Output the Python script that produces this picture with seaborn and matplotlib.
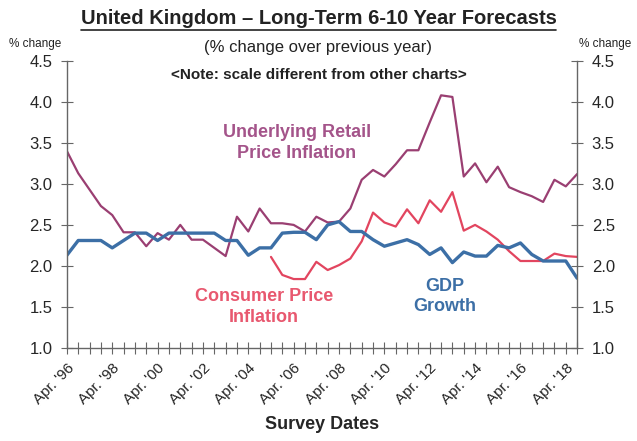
import numpy as np
import pandas as pd
import seaborn as sns
import matplotlib.pyplot as plt
from matplotlib.lines import Line2D

# semiannual survey dates, Apr '96 .. Oct '18
n_points = 46
tick_labels = ["Apr. '96", "Apr. '98", "Apr. '00", "Apr. '02", "Apr. '04", "Apr. '06",
               "Apr. '08", "Apr. '10", "Apr. '12", "Apr. '14", "Apr. '16", "Apr. '18"]

rpi = [3.40, 3.13, 2.93, 2.73, 2.62, 2.41, 2.41, 2.24, 2.40, 2.32,
       2.50, 2.32, 2.32, 2.22, 2.12, 2.60, 2.42, 2.70, 2.52, 2.52,
       2.50, 2.42, 2.60, 2.53, 2.54, 2.70, 3.05, 3.17, 3.09, 3.24,
       3.41, 3.41, 3.75, 4.08, 4.06, 3.09, 3.25, 3.02, 3.21, 2.96,
       2.90, 2.85, 2.78, 3.05, 2.97, 3.12]

gdp = [2.13, 2.31, 2.31, 2.31, 2.22, 2.31, 2.40, 2.40, 2.31, 2.40,
       2.40, 2.40, 2.40, 2.40, 2.31, 2.31, 2.13, 2.22, 2.22, 2.40,
       2.41, 2.41, 2.32, 2.50, 2.54, 2.42, 2.42, 2.32, 2.24, 2.28,
       2.32, 2.26, 2.14, 2.22, 2.04, 2.17, 2.12, 2.12, 2.25, 2.22,
       2.28, 2.14, 2.06, 2.06, 2.06, 1.85]

# CPI series starts at Apr '05 (index 18)
cpi_start = 18
cpi = [2.11, 1.89, 1.84, 1.84, 2.05, 1.95, 2.01, 2.09, 2.30, 2.65,
       2.53, 2.48, 2.69, 2.52, 2.80, 2.66, 2.90, 2.43, 2.50, 2.42,
       2.32, 2.18, 2.06, 2.06, 2.06, 2.15, 2.12, 2.11]

purple = "#9a3f72"
red = "#e2455f"
blue = "#3c6fa6"

sns.set_style("white")
plt.rcParams['font.family'] = ['Liberation Sans', 'DejaVu Sans']

x = np.arange(n_points)
df = pd.DataFrame({"x": x, "rpi": rpi, "gdp": gdp})
df_cpi = pd.DataFrame({"x": np.arange(cpi_start, cpi_start + len(cpi)), "cpi": cpi})

fig = plt.figure(figsize=(6.37, 4.41), dpi=100)
ax = fig.add_axes([0.105, 0.211, 0.801, 0.651])

sns.lineplot(data=df, x="x", y="rpi", color=purple, linewidth=1.6, ax=ax)
sns.lineplot(data=df_cpi, x="x", y="cpi", color=red, linewidth=1.6, ax=ax)
sns.lineplot(data=df, x="x", y="gdp", color=blue, linewidth=2.4, ax=ax)

ax.set_xlim(0, n_points - 1)
ax.set_ylim(1.0, 4.5)
ax.set_yticks(np.arange(1.0, 4.51, 0.5))
ax.set_yticklabels(["%.1f" % v for v in np.arange(1.0, 4.51, 0.5)])

ax.set_xticks(x)
ax.set_xticklabels([tick_labels[i // 4] if i % 4 == 0 else "" for i in x],
                   rotation=45, ha="right", rotation_mode="anchor")

ax.tick_params(axis="y", which="both", direction="inout", length=9, width=0.8,
               color="#666666", left=True, right=True, labelleft=True, labelright=True,
               labelsize=12, pad=6)
ax.tick_params(axis="x", direction="inout", length=9, width=0.8, color="#666666",
               bottom=True, labelsize=11, pad=5)

for side in ["left", "right", "bottom"]:
    ax.spines[side].set_color("#666666")
    ax.spines[side].set_linewidth(1.0)
ax.spines["top"].set_visible(False)

ax.set_xlabel("Survey Dates", fontsize=13, fontweight="bold", labelpad=6)
ax.set_ylabel("")

# series labels
ax.text(20.3, 3.50, "Underlying Retail\nPrice Inflation", color="#a4548a",
        fontsize=13, fontweight="bold", ha="center", va="center", linespacing=1.25)
ax.text(17.4, 1.50, "Consumer Price\nInflation", color="#e8586f",
        fontsize=13, fontweight="bold", ha="center", va="center", linespacing=1.25)
ax.text(33.3, 1.63, "GDP\nGrowth", color=blue,
        fontsize=13, fontweight="bold", ha="center", va="center", linespacing=1.25)

# headings
title = fig.text(0.5, 0.958, "United Kingdom \u2013 Long-Term 6-10 Year Forecasts",
                 fontsize=14.5, fontweight="bold", ha="center", va="center",
                 color="#222222")
fig.text(0.5, 0.893, "(% change over previous year)", fontsize=12,
         ha="center", va="center", color="#222222")
fig.text(0.5, 0.830, "<Note: scale different from other charts>", fontsize=11,
         fontweight="bold", ha="center", va="center", color="#222222")
fig.text(0.055, 0.900, "% change", fontsize=8.5, ha="center", va="center", color="#222222")
fig.text(0.950, 0.900, "% change", fontsize=8.5, ha="center", va="center", color="#222222")

# underline the title
fig.canvas.draw()
bb = title.get_window_extent().transformed(fig.transFigure.inverted())
fig.add_artist(Line2D([bb.x0, bb.x1], [bb.y0 - 0.004, bb.y0 - 0.004],
                      color="#222222", linewidth=1.2, transform=fig.transFigure))

fig.savefig("out.png", dpi=100)
